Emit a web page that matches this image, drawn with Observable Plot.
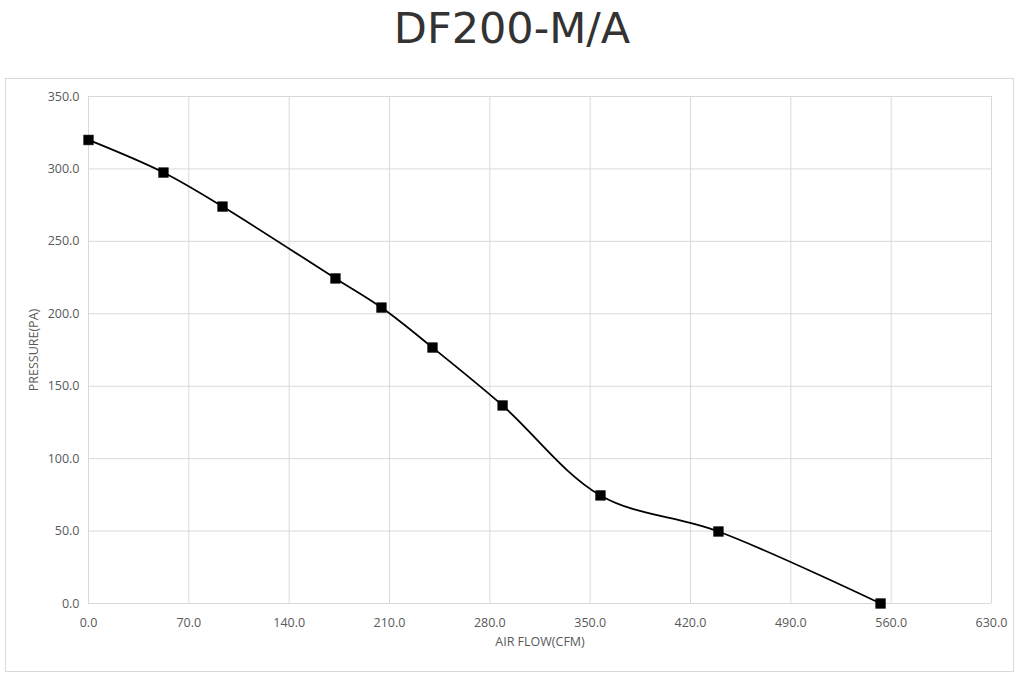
<!DOCTYPE html>
<html>
<head>
<meta charset="utf-8">
<script src="https://cdn.jsdelivr.net/npm/d3@7"></script>
<script src="https://cdn.jsdelivr.net/npm/@observablehq/plot@0.6"></script>
<style>
  html, body { margin: 0; padding: 0; background: #fff; width: 1024px; height: 680px; overflow: hidden; }
  #title { position: absolute; left: 0; top: 0; width: 1024px; height: 78px; text-align: center;
           font-family: "DejaVu Sans", sans-serif; font-size: 43px; color: #333; line-height: 56px; }
  #frame { position: absolute; left: 5px; top: 78px; width: 1009px; height: 594px; box-sizing: border-box;
           border: 1.5px solid #d9d9d9; }
  #chart { position: absolute; left: 0; top: 78px; }
</style>
</head>
<body>
<div id="title">DF200-M/A</div>
<div id="frame"></div>
<div id="chart"></div>
<script>
const airFlow = [0, 52.3, 93.5, 172.3, 204.4, 240, 288.9, 357.2, 439.5, 552.6];
const pressure = [320, 297.5, 274, 224.4, 204.3, 176.7, 136.7, 74.6, 49.7, 0];
const xTicks = [0, 70, 140, 210, 280, 350, 420, 490, 560, 630];
const yTicks = [0, 50, 100, 150, 200, 250, 300, 350];

const data = airFlow.map((x, i) => ({x, y: pressure[i]}));
const fmt = d3.format(".1f");

const plot = Plot.plot({
  width: 1024,
  height: 600,
  marginLeft: 88,
  marginRight: 33,
  marginTop: 18,
  marginBottom: 75,
  style: { fontFamily: "'Open Sans', sans-serif", fontSize: "12px", color: "#595959", background: "transparent" },
  x: { domain: [0, 630], ticks: xTicks, tickFormat: fmt, label: null },
  y: { domain: [0, 350], ticks: yTicks, tickFormat: fmt, label: null },
  marks: [
    Plot.gridX(xTicks, { stroke: "#d9d9d9", strokeOpacity: 1, strokeWidth: 1 }),
    Plot.gridY(yTicks, { stroke: "#d9d9d9", strokeOpacity: 1, strokeWidth: 1 }),
    Plot.axisX(xTicks, { tickSize: 0, tickPadding: 15, tickFormat: fmt, fill: "#595959", label: null, fontSize: 12.5 }),
    Plot.axisY(yTicks, { tickSize: 0, tickPadding: 9, tickFormat: fmt, fill: "#595959", label: null, fontSize: 12.5 }),
    Plot.line(data, { x: "x", y: "y", curve: "catmull-rom", stroke: "#000", strokeWidth: 1.8 }),
    Plot.dot(data, { x: "x", y: "y", symbol: "square", r: 5.5, fill: "#000", stroke: "#000", strokeWidth: 0.5 }),
    Plot.text(["AIR FLOW(CFM)"], { frameAnchor: "bottom", dy: 42, text: d => d, fill: "#595959", fontSize: 12.5 }),
    Plot.text(["PRESSURE(PA)"], { frameAnchor: "left", textAnchor: "middle", dx: -55, rotate: -90, text: d => d, fill: "#595959", fontSize: 12.5 })
  ]
});
document.getElementById("chart").appendChild(plot);
</script>
</body>
</html>
